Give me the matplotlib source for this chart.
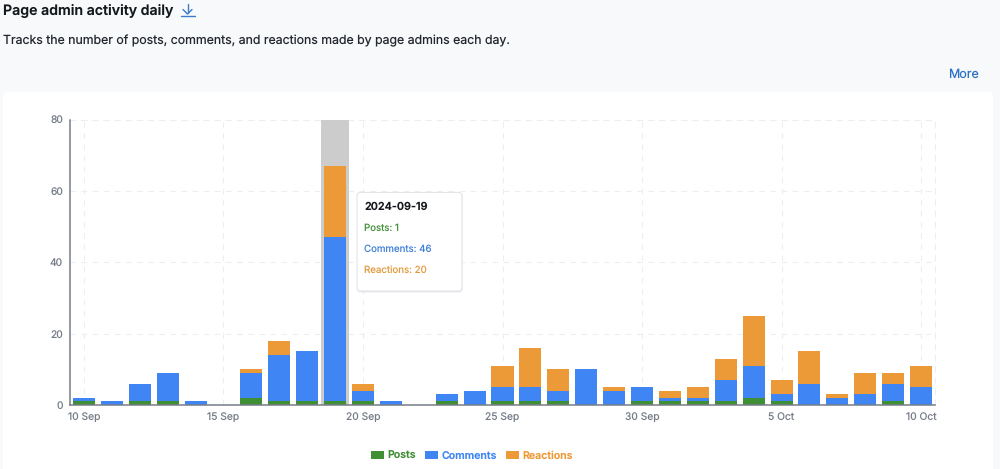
import matplotlib
matplotlib.use("Agg")
import matplotlib.pyplot as plt
from matplotlib.patches import FancyBboxPatch, Rectangle
import numpy as np

plt.rcParams['font.family'] = ['Inter', 'DejaVu Sans']
plt.rcParams['text.hinting'] = 'no_hinting'
plt.rcParams['text.hinting_factor'] = 1

dates = ['10 Sep','11 Sep','12 Sep','13 Sep','14 Sep','15 Sep','16 Sep','17 Sep','18 Sep','19 Sep','20 Sep',
         '21 Sep','22 Sep','23 Sep','24 Sep','25 Sep','26 Sep','27 Sep','28 Sep','29 Sep','30 Sep',
         '1 Oct','2 Oct','3 Oct','4 Oct','5 Oct','6 Oct','7 Oct','8 Oct','9 Oct','10 Oct']
posts     = [1,0,1,1,0,0,2,1,1,1,1,0,0,1,0,1,1,1,0,0,1,1,1,1,2,1,0,0,0,1,0]
comments  = [1,1,5,8,1,0,7,13,14,46,3,1,0,2,4,4,4,3,10,4,4,1,1,6,9,2,6,2,3,5,5]
reactions = [0,0,0,0,0,0,1,4,0,20,2,0,0,0,0,6,11,6,0,1,0,2,3,6,14,4,9,1,6,3,6]
highlight_index = 9
y_ticks = [0,20,40,60,80]
tick_every = 5

C_POSTS, C_COMMENTS, C_REACTIONS = '#3f8f35', '#3f86f4', '#ec9a38'
GREY = '#767d88'
GRID = '#eceef2'
W, H = 1000, 469

fig = plt.figure(figsize=(W/100, H/100), dpi=100, facecolor='#f7f9fb')

# page chrome, in pixel coordinates
page = fig.add_axes([0,0,1,1], zorder=0)
page.set_xlim(0, W); page.set_ylim(H, 0); page.axis('off')
page.add_patch(FancyBboxPatch((3,92), 990, 400, boxstyle='round,pad=0,rounding_size=4',
                              fc='white', ec='none'))
page.text(3, 11, 'Page admin activity daily', fontsize=10.2, fontweight='semibold', color='#15181d', va='center')
page.text(3, 41, 'Tracks the number of posts, comments, and reactions made by page admins each day.',
          fontsize=8.87, color='#23272e', va='center')
page.text(979, 74.5, 'More', fontsize=9.0, color='#2b72c4', va='center', ha='right')
for xs, ys in [([187.5,187.5],[4,13.5]), ([183,187.5,192],[9.5,14,9.5]), ([181,194.5],[16.5,16.5])]:
    page.plot(xs, ys, color='#3b7cc9', lw=1.0, solid_capstyle='round')

# chart
ax = fig.add_axes([70/W, 1-405/H, 865/W, 285.5/H], zorder=1)
ax.patch.set_alpha(0)
x = np.arange(len(dates))
p, c, r = np.array(posts), np.array(comments), np.array(reactions)
ax.bar(x[highlight_index], y_ticks[-1], width=1.0, color='#cccccc', zorder=1.5, linewidth=0)
ax.bar(x, p, width=0.79, color=C_POSTS, zorder=2, label='Posts', linewidth=0)
ax.bar(x, c, width=0.79, bottom=p, color=C_COMMENTS, zorder=2, label='Comments', linewidth=0)
ax.bar(x, r, width=0.79, bottom=p+c, color=C_REACTIONS, zorder=2, label='Reactions', linewidth=0)

ax.set_xlim(-0.5, len(dates)-0.5)
ax.set_ylim(0, y_ticks[-1])
ax.set_yticks(y_ticks)
ax.set_xticks(x[::tick_every], [dates[i] for i in x[::tick_every]])
ax.tick_params(axis='both', length=0, labelsize=7.4, labelcolor=GREY)
ax.tick_params(axis='x', pad=5)
ax.tick_params(axis='y', pad=5)
ax.grid(True, color=GRID, linestyle=(0,(5,5)), linewidth=0.8, zorder=0)
ax.set_axisbelow(True)
for s in ['top','right']:
    ax.spines[s].set_visible(True)
    ax.spines[s].set_color(GRID)
    ax.spines[s].set_linestyle((0,(5,5)))
    ax.spines[s].set_linewidth(0.8)
    ax.spines[s].set_zorder(1)
for s in ['left','bottom']:
    ax.spines[s].set_color(GREY)
    ax.spines[s].set_linewidth(1.1)
    ax.spines[s].set_zorder(3)

# legend, built from the bars
handles, labels = ax.get_legend_handles_labels()
leg = ax.legend(handles, labels, loc='center', bbox_to_anchor=(0.4647, -0.179), ncol=3, frameon=False,
                fontsize=7.6, handlelength=1.23, handleheight=0.75, handletextpad=0.32, columnspacing=0.9,
                borderpad=0, labelspacing=0)
for t, col in zip(leg.get_texts(), [C_POSTS, C_COMMENTS, C_REACTIONS]):
    t.set_color(col); t.set_fontweight('semibold')

# tooltip
top = fig.add_axes([0,0,1,1], zorder=2)
top.set_xlim(0, W); top.set_ylim(H, 0); top.axis('off')
top.add_patch(FancyBboxPatch((357.5,194), 105, 98.5, boxstyle='round,pad=0,rounding_size=3',
                             fc='#d9dbe0', ec='none', alpha=0.6))
top.add_patch(FancyBboxPatch((357,192.5), 105, 98.5, boxstyle='round,pad=0,rounding_size=3',
                             fc='white', ec='#e2e4e8', lw=0.8))
top.text(364, 206.5, '2024-09-19', fontsize=7.8, fontweight='semibold', color='#15181d', va='center')
top.text(364, 228, f'Posts: {posts[highlight_index]}', fontsize=7.0, color=C_POSTS, va='center')
top.text(364, 249, f'Comments: {comments[highlight_index]}', fontsize=7.0, color='#3f80d8', va='center')
top.text(364, 270.5, f'Reactions: {reactions[highlight_index]}', fontsize=7.0, color='#e39a3e', va='center')

fig.savefig('out.png', dpi=100, facecolor=fig.get_facecolor())
